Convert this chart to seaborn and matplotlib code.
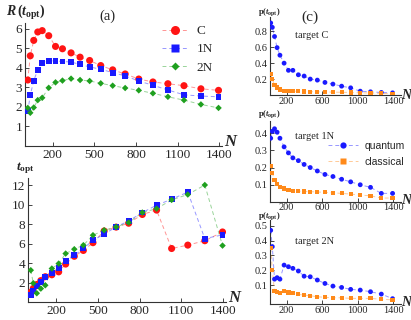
import matplotlib
matplotlib.use("Agg")
import matplotlib.pyplot as plt
import seaborn as sns
from matplotlib.colors import to_rgba
from matplotlib.lines import Line2D

# system sizes (shared by all panels)
N = [20, 38, 63, 92, 124, 171, 220, 270, 332, 397, 466, 546, 632, 722, 820, 922, 1030, 1146, 1268, 1395]

# (a) top: R(t_opt)
R_C = [3.38, 4.62, 5.41, 5.84, 5.91, 5.65, 5.10, 4.98, 4.77, 4.55, 4.38, 4.12, 3.90, 3.69, 3.43, 3.28, 3.19, 3.09, 2.93, 2.85]
R_1N = [1.78, 2.60, 3.35, 3.90, 4.24, 4.36, 4.36, 4.33, 4.30, 4.18, 4.05, 3.93, 3.76, 3.59, 3.33, 3.11, 2.87, 2.62, 2.56, 2.52]
R_2N = [1.95, 1.70, 1.97, 2.35, 2.47, 2.98, 3.26, 3.35, 3.45, 3.38, 3.33, 3.21, 3.09, 2.97, 2.85, 2.70, 2.52, 2.35, 2.13, 1.95]

# (a) bottom: t_opt
t_C = [1.0, 1.4, 1.8, 2.2, 2.6, 2.8, 3.1, 3.9, 4.7, 5.3, 6.1, 7.3, 7.7, 8.1, 9.0, 9.45, 5.5, 5.85, 6.3, 7.2]
t_1N = [0.73, 1.14, 1.66, 2.1, 2.6, 3.0, 3.5, 4.2, 4.8, 5.5, 6.35, 6.97, 7.72, 8.34, 9.2, 9.95, 10.57, 11.3, 6.52, 6.9]
t_2N = [3.27, 1.93, 0.9, 1.38, 1.72, 3.44, 3.95, 4.98, 5.43, 5.84, 6.87, 7.38, 7.72, 8.17, 9.2, 9.6, 10.5, 11.05, 12.03, 5.8]

# (c) p(t_opt), quantum vs classical
pC_q = [0.905, 0.85, 0.735, 0.595, 0.50, 0.40, 0.31, 0.31, 0.254, 0.238, 0.20, 0.187, 0.158, 0.137, 0.111, 0.09, 0.048, 0.04, 0.032, 0.027]
pC_c = [0.26, 0.2, 0.124, 0.095, 0.07, 0.055, 0.05, 0.048, 0.046, 0.044, 0.042, 0.04, 0.038, 0.036, 0.034, 0.032, 0.028, 0.025, 0.02, 0.015]
p1N_q = [0.37, 0.41, 0.425, 0.405, 0.37, 0.32, 0.285, 0.256, 0.24, 0.218, 0.2, 0.18, 0.16, 0.148, 0.132, 0.117, 0.1, 0.085, 0.05, 0.05]
p1N_c = [0.21, 0.167, 0.13, 0.103, 0.088, 0.078, 0.071, 0.066, 0.063, 0.061, 0.06, 0.058, 0.056, 0.053, 0.05, 0.046, 0.04, 0.036, 0.023, 0.023]
p2N_q = [0.47, 0.36, 0.14, 0.15, 0.14, 0.235, 0.224, 0.213, 0.195, 0.16, 0.156, 0.134, 0.111, 0.093, 0.084, 0.071, 0.066, 0.055, 0.039, 0.008]
p2N_c = [0.35, 0.2, 0.061, 0.055, 0.044, 0.061, 0.05, 0.044, 0.037, 0.032, 0.028, 0.021, 0.017, 0.014, 0.014, 0.01, 0.01, 0.01, 0.004, 0.0]

RED, BLUE, GREEN, ORANGE = "#ff1414", "#1a1aff", "#1fa01f", "#ff8a1a"

sns.set_style("ticks")
plt.rcParams["font.family"] = ["Liberation Serif", "DejaVu Serif"]
plt.rcParams["mathtext.fontset"] = "custom"
plt.rcParams["mathtext.rm"] = "Liberation Serif:bold"
plt.rcParams["mathtext.it"] = "Liberation Serif:italic:bold"
plt.rcParams["mathtext.bf"] = "Liberation Serif:bold"

W, H = 411, 320
fig = plt.figure(figsize=(W / 100, H / 100), dpi=100)


def add_ax(l, t, r, b):
    # axes box given in pixels of the final image
    return fig.add_axes([l / W, 1 - b / H, (r - l) / W, (b - t) / H])


def series(ax, y, color, marker, s):
    sns.lineplot(x=N, y=y, ax=ax, color=to_rgba(color, 0.45), lw=0.7,
                 linestyle=(0, (4, 3)), legend=False)
    sns.scatterplot(x=N, y=y, ax=ax, color=color, marker=marker, s=s,
                    edgecolor="none", zorder=3, legend=False)


def style(ax, xlim, ylim, xt, yt, fs, xpad=2):
    ax.set_xlim(xlim)
    ax.set_ylim(ylim)
    ax.set_xticks(xt)
    ax.set_yticks(yt)
    ax.set_xlabel("")
    ax.set_ylabel("")
    sns.despine(ax=ax)
    for sp in ["left", "bottom"]:
        ax.spines[sp].set_linewidth(0.8)
        ax.spines[sp].set_color("#333333")
    ax.tick_params(direction="in", length=3, width=0.6, labelsize=fs, pad=2)
    ax.tick_params(axis="x", pad=xpad)


# top-left panel
ax1 = add_ax(25, 23, 222, 146)
series(ax1, R_C, RED, "o", 26)
series(ax1, R_1N, BLUE, "s", 18)
series(ax1, R_2N, GREEN, "D", 11)
style(ax1, (0, 1420), (0, 6.3), [200, 500, 800, 1100, 1400], [1, 2, 3, 4, 5, 6], 9.5)

# bottom-left panel
ax2 = add_ax(28, 178, 226, 302)
series(ax2, t_C, RED, "o", 26)
series(ax2, t_1N, BLUE, "s", 18)
series(ax2, t_2N, GREEN, "D", 11)
style(ax2, (0, 1420), (0, 12.75), [200, 500, 800, 1100, 1400], [2, 4, 6, 8, 10, 12], 9.5)

# right panels
xt_r = [200, 600, 1000, 1400]
ax3 = add_ax(270, 17, 401, 95)
series(ax3, pC_q, BLUE, "o", 12)
series(ax3, pC_c, ORANGE, "s", 9)
style(ax3, (12, 1490), (0, 0.98), xt_r, [0.2, 0.4, 0.6, 0.8], 7.5, xpad=1.5)

ax4 = add_ax(270, 121, 401, 202)
series(ax4, p1N_q, BLUE, "o", 12)
series(ax4, p1N_c, ORANGE, "s", 9)
style(ax4, (12, 1490), (0, 0.47), xt_r, [0.1, 0.2, 0.3, 0.4], 7.5, xpad=1.0)

ax5 = add_ax(270, 220, 401, 303.7)
series(ax5, p2N_q, BLUE, "o", 12)
series(ax5, p2N_c, ORANGE, "s", 9)
style(ax5, (12, 1490), (-0.026, 0.54), xt_r, [0.1, 0.2, 0.3, 0.4, 0.5], 7.5, xpad=1.5)


def ftext(x, y, s, **kw):
    fig.text(x / W, 1 - y / H, s, va="center", **kw)


# labels
ftext(6, 12.5, r"$R\,(t_{\rm opt})$", fontsize=10)
ftext(16, 168, r"$t_{\rm opt}$", fontsize=9.5)
for yy in (12, 114, 216.5):
    ftext(258, yy, r"$\mathrm{p}(t_{\rm opt})$", fontsize=6)
for xx, yy, fs in ((224, 142, 12), (228, 298, 12), (401, 95.5, 10), (401, 200, 10), (401, 302, 10)):
    ftext(xx, yy, "N", fontsize=fs, fontstyle="italic", fontweight="bold")
ftext(107.5, 16, "(a)", fontsize=10.5, ha="center")
ftext(310, 17, "(c)", fontsize=11, ha="center")
ftext(295, 36, "target C", fontsize=7.5)
ftext(295, 136.5, "target 1N", fontsize=7.5)
ftext(295, 241, "target 2N", fontsize=7.5)


def handle(color, marker, ms):
    return Line2D([], [], color=to_rgba(color, 0.45), lw=0.7, linestyle=(0, (4, 3)),
                  marker=marker, markersize=ms, markerfacecolor=color, markeredgecolor="none")


fig.legend([handle(RED, "o", 6.5), handle(BLUE, "s", 5.5), handle(GREEN, "D", 4)],
           ["C", "1N", "2N"], loc="upper left", bbox_to_anchor=(162 / W, 1 - 25 / H),
           frameon=False, fontsize=9.5, handlelength=2.0, handletextpad=0.6,
           labelspacing=0.45, borderpad=0, borderaxespad=0)
fig.legend([handle(BLUE, "o", 4.5), handle(ORANGE, "s", 4)],
           ["quantum", "classical"], loc="upper left", bbox_to_anchor=(328 / W, 1 - 141 / H),
           frameon=False, prop={"family": "Liberation Sans", "size": 7.5},
           handlelength=2.9, handletextpad=0.6, labelspacing=0.55, borderpad=0, borderaxespad=0)

fig.savefig("out.png", dpi=100)
